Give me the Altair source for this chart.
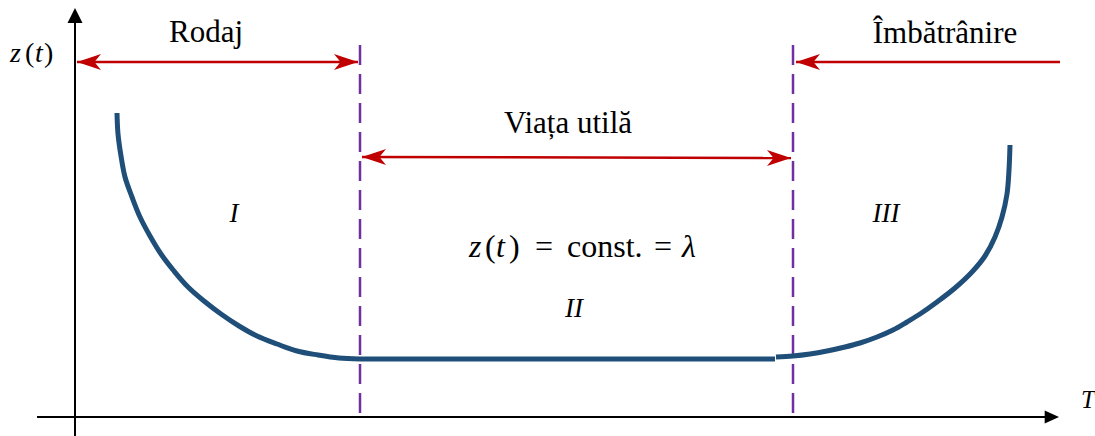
import altair as alt
import pandas as pd

# ---- data (chart units: T along the horizontal axis, z along the vertical) ----
# bathtub curve z(t): early-failure branch, flat useful-life segment, wear-out branch
left_T = [42, 43, 46, 50, 57, 65, 75, 86, 99, 113, 129, 146, 164, 182, 202, 222, 243, 264, 285]
left_z = [304, 283, 261, 240, 220, 200, 181, 163, 146, 130, 116, 103, 91, 81, 73, 66, 62, 59, 58]
flat_T = [285, 700]
flat_z = [58, 58]
right_T = [701, 718, 735, 752, 770, 785, 802, 818, 832, 845, 862, 880, 897, 910, 920, 927, 932, 934, 935]
right_z = [60, 61, 63, 66, 70, 74, 80, 87, 95, 103, 115, 129, 145, 161, 180, 200, 223, 247, 272]

# phase boundaries (dashed)
bound_T = [285, 718]
bound_top = [372, 372]
bound_bot = [4, 4]

# red range arrows: shaft from (T1, z1) to (T2, z2)
arrow_T1 = [2, 287, 985]
arrow_z1 = [355, 260, 355]
arrow_T2 = [283, 716, 721]
arrow_z2 = [355, 259, 355]

# red arrow heads: tip position and direction
head_T = [2, 283, 287, 716, 721]
head_z = [355, 355, 260, 259, 355]
head_dir = ["left", "right", "left", "right", "left"]

# coordinate axes
axis_T = [[0, 0], [-38, 970]]
axis_z = [[-19, 394], [0, 0]]
axis_head_T = [0, 984]
axis_head_z = [409, 0]
axis_head_dir = ["up", "right"]

# upright labels
up_text = ["Rodaj", "Îmbătrânire", "Viața utilă"]
up_T = [131, 870, 493]
up_z = [375, 374, 284]

# italic region labels
roman_text = ["I", "II", "III"]
roman_T = [159, 499, 811]
roman_z = [195, 100, 195]

# formula pieces  z(t) = const. = λ   (left aligned)
f_text = ["z", "(", "t", ")", "=", "const.", "=", "λ"]
f_T = [394, 410, 421, 434, 460, 492, 579, 607]
f_italic = [True, False, True, False, False, False, False, True]
f_z = 160

# vertical axis title z(t) and horizontal axis title T
ya_text = ["z", "(", "t", ")"]
ya_T = [-65, -50, -40, -31]
ya_italic = [True, False, True, False]
ya_z = 355
xa_T, xa_z = 1006, 9

RED = "#C00000"
PURPLE = "#7030A0"
BLUE = "#1F4E79"
FONT = "Liberation Serif, Times New Roman, DejaVu Serif, serif"

W, H = 1095, 436
xs = alt.Scale(domain=[-75, 1020], nice=False, zero=False)
ys = alt.Scale(domain=[-19, 417], nice=False, zero=False)


def X(f):
    return alt.X(f, type="quantitative", scale=xs, axis=None)


def Y(f):
    return alt.Y(f, type="quantitative", scale=ys, axis=None)


# ---- tables ----
curve_df = pd.concat([
    pd.DataFrame({"T": left_T, "z": left_z, "part": "left"}),
    pd.DataFrame({"T": flat_T, "z": flat_z, "part": "flat"}),
    pd.DataFrame({"T": right_T, "z": right_z, "part": "right"}),
], ignore_index=True)
curve_df["i"] = range(len(curve_df))

bound_df = pd.DataFrame({"T": bound_T, "z": bound_top, "z2": bound_bot})
shaft_df = pd.DataFrame({"T": arrow_T1, "z": arrow_z1, "T2": arrow_T2, "z2": arrow_z2})

HEAD_PATH = {
    "left": "M 0 0 L 2 -0.67 L 1.45 0 L 2 0.67 Z",
    "right": "M 0 0 L -2 -0.67 L -1.45 0 L -2 0.67 Z",
}
head_df = pd.DataFrame({"T": head_T, "z": head_z,
                        "path": [HEAD_PATH[d] for d in head_dir]})

AXIS_PATH = {
    "up": "M 0 0 L -1 2 L 1 2 Z",
    "right": "M 0 0 L -2.2 -1 L -2.2 1 Z",
}
AXIS_SIZE = {"up": 225, "right": 169}
axis_df = pd.DataFrame({"T": [a[0] for a in axis_T], "T2": [a[1] for a in axis_T],
                        "z": [a[0] for a in axis_z], "z2": [a[1] for a in axis_z]})
axis_head_df = pd.DataFrame({"T": axis_head_T, "z": axis_head_z,
                             "path": [AXIS_PATH[d] for d in axis_head_dir],
                             "s": [AXIS_SIZE[d] for d in axis_head_dir]})

up_df = pd.DataFrame({"T": up_T, "z": up_z, "t": up_text})
roman_df = pd.DataFrame({"T": roman_T, "z": roman_z, "t": roman_text})

pieces = []
for t, T, it in zip(f_text, f_T, f_italic):
    pieces.append({"T": T, "z": f_z, "t": t, "it": it, "s": 32})
for t, T, it in zip(ya_text, ya_T, ya_italic):
    pieces.append({"T": T, "z": ya_z, "t": t, "it": it, "s": 28})
pieces.append({"T": xa_T, "z": xa_z, "t": "T", "it": True, "s": 25})
piece_df = pd.DataFrame(pieces)
it_df = piece_df[piece_df["it"]]
rm_df = piece_df[~piece_df["it"]]

# ---- layers ----
axes = alt.Chart(axis_df).mark_rule(color="black", strokeWidth=2).encode(
    x=X("T"), x2="T2", y=Y("z"), y2="z2")
axis_heads = alt.Chart(axis_head_df).mark_point(
    filled=True, color="black", opacity=1, strokeWidth=0).encode(
    x=X("T"), y=Y("z"),
    shape=alt.Shape("path:N", scale=None),
    size=alt.Size("s:Q", scale=None))

bounds = alt.Chart(bound_df).mark_rule(
    color=PURPLE, strokeWidth=2.5, strokeDash=[20, 9]).encode(
    x=X("T"), y=Y("z"), y2="z2")

curve = alt.Chart(curve_df).mark_line(
    color=BLUE, strokeWidth=5, strokeCap="butt", strokeJoin="round",
    interpolate="catmull-rom").encode(
    x=X("T"), y=Y("z"), detail="part:N", order="i:Q")

shafts = alt.Chart(shaft_df).mark_rule(color=RED, strokeWidth=2.5).encode(
    x=X("T"), x2="T2", y=Y("z"), y2="z2")
heads = alt.Chart(head_df).mark_point(
    filled=True, color=RED, opacity=1, size=576, strokeWidth=0).encode(
    x=X("T"), y=Y("z"), shape=alt.Shape("path:N", scale=None))

up_labels = alt.Chart(up_df).mark_text(
    font=FONT, fontSize=31, align="center", baseline="alphabetic",
    color="black").encode(x=X("T"), y=Y("z"), text="t:N")
roman_labels = alt.Chart(roman_df).mark_text(
    font=FONT, fontSize=27, fontStyle="italic", align="center",
    baseline="alphabetic", color="black").encode(x=X("T"), y=Y("z"), text="t:N")
it_pieces = alt.Chart(it_df).mark_text(
    font=FONT, fontStyle="italic", align="left", baseline="alphabetic",
    color="black").encode(x=X("T"), y=Y("z"), text="t:N",
                          size=alt.Size("s:Q", scale=None))
rm_pieces = alt.Chart(rm_df).mark_text(
    font=FONT, align="left", baseline="alphabetic",
    color="black").encode(x=X("T"), y=Y("z"), text="t:N",
                          size=alt.Size("s:Q", scale=None))

chart = alt.layer(
    axes, axis_heads, bounds, curve, shafts, heads,
    up_labels, roman_labels, it_pieces, rm_pieces,
).properties(
    width=W, height=H, padding=0, autosize=alt.AutoSizeParams(type="none"),
    background="white",
).configure_view(stroke=None)

chart.save("out.html", embed_options={"renderer": "svg", "actions": False})
